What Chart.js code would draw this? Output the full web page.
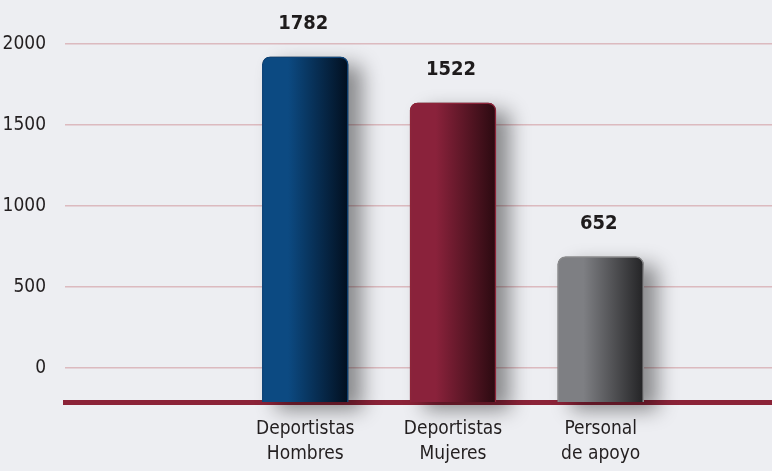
<!DOCTYPE html>
<html lang="es">
<head>
  <meta charset="UTF-8">
  <title>Deportistas y personal</title>
  <script src="https://cdn.jsdelivr.net/npm/chart.js"></script>
  <style>
    html, body { margin: 0; padding: 0; background: #edeef2; }
    #chart { display: block; }
  </style>
</head>
<body>
  <canvas id="chart" width="772" height="471"></canvas>

  <script>
    // Datos
    const categories = [['Deportistas', 'Hombres'], ['Deportistas', 'Mujeres'], ['Personal', 'de apoyo']];
    const values = [1782, 1522, 652];
    const yTicks = [0, 500, 1000, 1500, 2000];

    // Colores de las barras: [claro, oscuro, borde]
    const barColors = [
      ['#0c4a82', '#020f1f', '#0f4478'],
      ['#8a223b', '#2a0a10', '#8e2439'],
      ['#7e7f83', '#232325', '#8a8a8c']
    ];

    const FONT = "'DejaVu Sans Condensed', 'Liberation Sans', sans-serif";
    const BAR_W = 86;

    function barGradient(c) {
      const chart = c.chart;
      const xs = chart.scales.x;
      const col = barColors[c.dataIndex];
      if (!xs || !chart.chartArea) return col[0];
      const cx = xs.getPixelForValue(c.dataIndex + 1);
      const g = chart.ctx.createLinearGradient(cx - BAR_W / 2, 0, cx + BAR_W / 2, 0);
      g.addColorStop(0, col[0]);
      g.addColorStop(0.3, col[0]);
      g.addColorStop(1, col[1]);
      return g;
    }

    // sombra detrás de las barras y valores encima
    const barExtras = {
      id: 'barExtras',
      beforeDatasetsDraw(chart) {
        const ctx = chart.ctx;
        const meta = chart.getDatasetMeta(0);
        ctx.save();
        ctx.shadowColor = 'rgba(0,0,0,0.42)';
        ctx.shadowBlur = 20;
        ctx.shadowOffsetX = 14;
        ctx.shadowOffsetY = 8;
        ctx.fillStyle = '#555';
        meta.data.forEach(bar => {
          const w = bar.width;
          ctx.beginPath();
          ctx.roundRect(bar.x - w / 2, bar.y, w, bar.base - bar.y, [8, 8, 0, 0]);
          ctx.fill();
        });
        ctx.restore();
      },
      afterDatasetsDraw(chart) {
        const ctx = chart.ctx;
        const meta = chart.getDatasetMeta(0);
        ctx.save();
        ctx.font = 'bold 20px ' + FONT;
        ctx.fillStyle = '#1e1b1c';
        ctx.textAlign = 'center';
        ctx.textBaseline = 'middle';
        meta.data.forEach((bar, i) => {
          ctx.fillText(String(values[i]), bar.x - 2, bar.y - 33);
        });
        ctx.restore();
      }
    };

    const ctx = document.getElementById('chart').getContext('2d');
    new Chart(ctx, {
      type: 'bar',
      data: {
        datasets: [{
          data: values.map((v, i) => ({ x: i + 1, y: v })),
          yAxisID: 'y2',
          base: -169,
          barThickness: BAR_W,
          backgroundColor: barGradient,
          borderColor: c => barColors[c.dataIndex][2],
          borderWidth: 1.5,
          borderSkipped: 'start',
          borderRadius: { topLeft: 8, topRight: 8, bottomLeft: 0, bottomRight: 0 }
        }]
      },
      plugins: [barExtras],
      options: {
        responsive: false,
        animation: false,
        devicePixelRatio: 1,
        layout: { padding: { top: 10, right: 0, left: 0, bottom: 0 } },
        plugins: {
          legend: { display: false },
          tooltip: { enabled: false }
        },
        scales: {
          x: {
            type: 'linear',
            min: -0.627,
            max: 4.16,
            offset: false,
            z: 1,
            grid: { display: false, drawTicks: false },
            border: { display: true, color: '#8b2338', width: 5 },
            afterBuildTicks: s => { s.ticks = categories.map((c, i) => ({ value: i + 1 })); },
            afterFit: s => { s.height = 69; },
            ticks: {
              padding: 15,
              color: '#231f20',
              font: { family: FONT, size: 19, lineHeight: 1.3 },
              maxRotation: 0,
              autoSkip: false,
              callback: v => categories[v - 1] || ''
            }
          },
          y: {
            type: 'linear',
            position: 'left',
            min: -210,
            max: 2210,
            afterBuildTicks: s => { s.ticks = yTicks.map(v => ({ value: v })); },
            afterFit: s => { s.width = 65; s.paddingTop = 0; s.paddingBottom = 0; },
            grid: { color: 'rgba(214,168,174,0.75)', lineWidth: 1.5, drawTicks: false },
            border: { display: false },
            ticks: {
              padding: 19,
              color: '#231f20',
              font: { family: FONT, size: 19 },
              callback: v => String(v)
            }
          },
          y2: {
            type: 'linear',
            display: false,
            min: -169,
            max: 2046
          }
        }
      }
    });
  </script>
</body>
</html>
